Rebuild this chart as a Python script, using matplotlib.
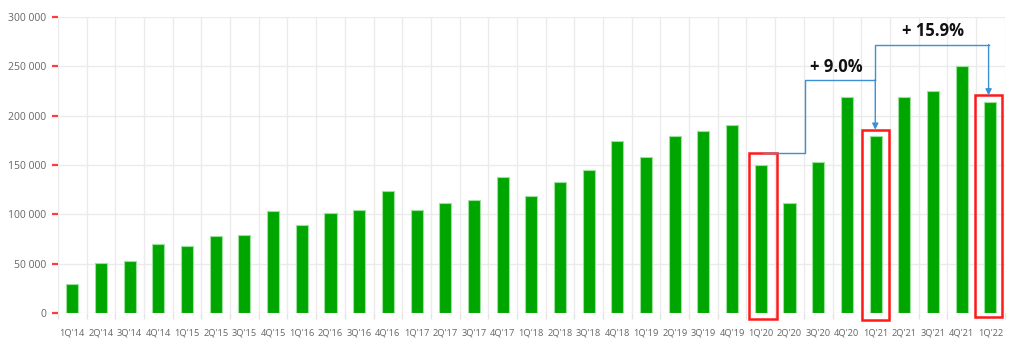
import matplotlib.pyplot as plt
from matplotlib.patches import Rectangle
from matplotlib.ticker import FuncFormatter, MultipleLocator

QUARTERS = [
    "1Q'14", "2Q'14", "3Q'14", "4Q'14",
    "1Q'15", "2Q'15", "3Q'15", "4Q'15",
    "1Q'16", "2Q'16", "3Q'16", "4Q'16",
    "1Q'17", "2Q'17", "3Q'17", "4Q'17",
    "1Q'18", "2Q'18", "3Q'18", "4Q'18",
    "1Q'19", "2Q'19", "3Q'19", "4Q'19",
    "1Q'20", "2Q'20", "3Q'20", "4Q'20",
    "1Q'21", "2Q'21", "3Q'21", "4Q'21",
    "1Q'22",
]
VALUES = [
    29500, 51000, 53000, 69500,
    68000, 78500, 79000, 103000,
    89000, 101500, 104000, 123500,
    104500, 111500, 114500, 138000,
    118500, 132500, 145000, 174500,
    158000, 179000, 184000, 190500,
    150500, 111500, 153500, 219000,
    179500, 218500, 225500, 250500,
    213500,
]
HIGHLIGHT = ["1Q'20", "1Q'21", "1Q'22"]
GROWTH_LABELS = ["+ 9.0%", "+ 15.9%"]

GREEN = "#00a600"
GREY_TXT = "#666666"
GRID = "#ebebeb"
BLUE = "#3d8fd6"

fig = plt.figure(figsize=(10.24, 3.63), dpi=100)
ax = fig.add_axes([0.0566, 0.1377, 0.9245, 0.8155])

xs = range(len(QUARTERS))
ax.bar(xs, VALUES, width=0.42, color=GREEN, edgecolor="#9be09b", linewidth=0.8, zorder=3)

ax.set_xlim(-0.5, len(QUARTERS) - 0.5)
ax.set_ylim(0, 300000)

# ticks and grid
ax.set_xticks(list(xs))
ax.set_xticklabels(QUARTERS)
ax.set_xticks([i - 0.5 for i in range(len(QUARTERS) + 1)], minor=True)
ax.yaxis.set_major_locator(MultipleLocator(50000))
ax.yaxis.set_major_formatter(FuncFormatter(lambda v, _: f"{int(v):,}".replace(",", " ")))

ax.tick_params(axis="x", which="major", length=0, pad=11, labelsize=6.7, labelcolor=GREY_TXT)
ax.tick_params(axis="x", which="minor", length=4, width=1, color="#e3e3e3")
ax.tick_params(axis="y", length=4.5, width=1.6, color="#ff3b3b", pad=4,
               labelsize=7.5, labelcolor=GREY_TXT)
for lbl in ax.get_xticklabels() + ax.get_yticklabels():
    lbl.set_family("Open Sans")

ax.grid(axis="y", which="major", color=GRID, linewidth=1, zorder=0)
ax.grid(axis="x", which="minor", color=GRID, linewidth=1, zorder=0)
for s in ax.spines.values():
    s.set_visible(False)

# red boxes around the compared quarters (hand-drawn offsets)
boxes = {"1Q'20": (-0.42, 0.57, -6400, 161900),
         "1Q'21": (-0.48, 0.46, -7100, 185800),
         "1Q'22": (-0.55, 0.42, -3700, 220600)}
for q in HIGHLIGHT:
    i = QUARTERS.index(q)
    l, r, b, t = boxes[q]
    ax.add_patch(Rectangle((i + l, b), r - l, t - b, fill=False, edgecolor="#ff1a1a",
                           linewidth=1.8, clip_on=False, zorder=4))

# connectors
i20, i21, i22 = (QUARTERS.index(q) for q in HIGHLIGHT)
ax.plot([i20 + 0.06, i20 + 1.55, i20 + 1.55, i21 - 0.01],
        [161900, 161900, 236100, 236100], color=BLUE, lw=1, zorder=5, clip_on=False)
ax.annotate("", xy=(i21 - 0.01, 185800), xytext=(i21 - 0.01, 236600),
            arrowprops=dict(arrowstyle="-|>", color=BLUE, lw=1, mutation_scale=9,
                            shrinkA=0, shrinkB=0), zorder=5)
ax.plot([i21 - 0.01, i21 - 0.01, i22 - 0.06],
        [236100, 271600, 271600], color=BLUE, lw=1, zorder=5, clip_on=False)
ax.annotate("", xy=(i22 - 0.06, 220600), xytext=(i22 - 0.06, 272100),
            arrowprops=dict(arrowstyle="-|>", color=BLUE, lw=1, mutation_scale=9,
                            shrinkA=0, shrinkB=0), zorder=5)

ax.text(26.64, 249600, GROWTH_LABELS[0], ha="center", va="center", fontsize=12,
        fontweight="bold", family="Open Sans", color="#111111")
ax.text(29.99, 286100, GROWTH_LABELS[1], ha="center", va="center", fontsize=12,
        fontweight="bold", family="Open Sans", color="#111111", clip_on=False)

fig.savefig("out.png", dpi=100)
